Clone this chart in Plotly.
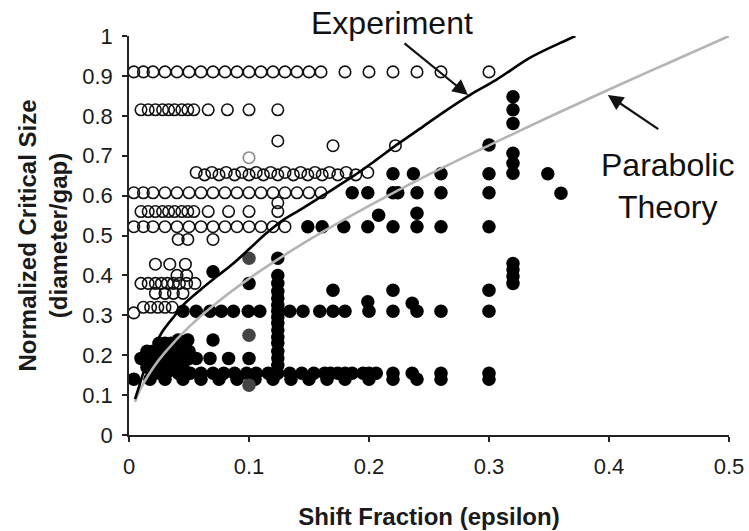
import plotly.graph_objects as go

# ---------------- data ----------------
x_ticks = [0, 0.1, 0.2, 0.3, 0.4, 0.5]
y_ticks = [0, 0.1, 0.2, 0.3, 0.4, 0.5, 0.6, 0.7, 0.8, 0.9, 1.0]

# Experiment curve (black)
exp_x = [0.005, 0.0075, 0.013, 0.02, 0.028, 0.0383, 0.0453, 0.0592, 0.0731, 0.0869,
         0.1008, 0.1147, 0.1286, 0.1425, 0.162, 0.184, 0.204, 0.223, 0.245, 0.265,
         0.284, 0.306, 0.334, 0.359, 0.372]
exp_y = [0.09, 0.113, 0.165, 0.215, 0.26, 0.30, 0.326, 0.363, 0.397, 0.43,
         0.468, 0.506, 0.539, 0.564, 0.601, 0.643, 0.685, 0.727, 0.773, 0.815,
         0.852, 0.89, 0.945, 0.982, 1.0]

# Parabolic theory curve (grey)
theory_x = [0.005, 0.01, 0.02, 0.03, 0.05, 0.075, 0.1, 0.125, 0.15, 0.2,
            0.25, 0.3, 0.35, 0.4, 0.45, 0.5]
theory_y = [0.083, 0.118, 0.168, 0.207, 0.271, 0.336, 0.392, 0.442, 0.489, 0.574,
            0.653, 0.726, 0.797, 0.866, 0.933, 1.0]

# Open circles (black outline)
open_x = [
    0.004, 0.012, 0.02, 0.03, 0.04, 0.05, 0.06, 0.07, 0.08, 0.09, 0.10, 0.11, 0.12,
    0.13, 0.14, 0.15, 0.16, 0.18, 0.20, 0.22, 0.24, 0.26, 0.30,
    0.01, 0.016, 0.022, 0.028, 0.033, 0.038, 0.044, 0.049, 0.054, 0.066, 0.082, 0.10, 0.124,
    0.124, 0.17, 0.222,
    0.056, 0.063, 0.069, 0.075, 0.081, 0.088, 0.094, 0.100, 0.106, 0.112, 0.118, 0.124,
    0.130, 0.137, 0.143, 0.149, 0.155, 0.161, 0.167, 0.174, 0.181, 0.189, 0.199,
    0.004, 0.012, 0.02, 0.03, 0.04, 0.05, 0.06, 0.07, 0.08, 0.09, 0.10, 0.11, 0.12,
    0.13, 0.14, 0.15, 0.16,
    0.124,
    0.01, 0.016, 0.022, 0.028, 0.033, 0.038, 0.044, 0.049, 0.054, 0.066, 0.083, 0.10, 0.124,
    0.004, 0.012, 0.02, 0.03, 0.04, 0.05, 0.06, 0.07, 0.08, 0.09, 0.10, 0.11, 0.12, 0.13,
    0.041, 0.049, 0.07,
    0.022, 0.034, 0.047,
    0.04, 0.048,
    0.01, 0.016, 0.022, 0.027, 0.032, 0.037, 0.042, 0.048, 0.055,
    0.022, 0.03, 0.037, 0.045,
    0.012, 0.018, 0.024, 0.03, 0.036,
    0.004,
    0.013,
]
open_y = [
    0.91, 0.91, 0.91, 0.91, 0.91, 0.91, 0.91, 0.91, 0.91, 0.91, 0.91, 0.91, 0.91,
    0.91, 0.91, 0.91, 0.91, 0.91, 0.91, 0.91, 0.91, 0.91, 0.91,
    0.815, 0.815, 0.815, 0.815, 0.815, 0.815, 0.815, 0.815, 0.815, 0.815, 0.815, 0.815, 0.815,
    0.737, 0.725, 0.725,
    0.658, 0.652, 0.658, 0.652, 0.658, 0.652, 0.658, 0.652, 0.658, 0.652, 0.658, 0.652,
    0.658, 0.652, 0.658, 0.652, 0.658, 0.652, 0.658, 0.652, 0.658, 0.652, 0.658,
    0.607, 0.607, 0.607, 0.607, 0.607, 0.607, 0.607, 0.607, 0.607, 0.607, 0.607, 0.607, 0.607,
    0.607, 0.607, 0.607, 0.607,
    0.582,
    0.56, 0.56, 0.56, 0.56, 0.56, 0.56, 0.56, 0.56, 0.56, 0.56, 0.56, 0.56, 0.56,
    0.522, 0.522, 0.522, 0.522, 0.522, 0.522, 0.522, 0.522, 0.522, 0.522, 0.522, 0.522, 0.522, 0.522,
    0.49, 0.49, 0.49,
    0.428, 0.428, 0.428,
    0.40, 0.40,
    0.38, 0.38, 0.38, 0.38, 0.38, 0.38, 0.38, 0.38, 0.38,
    0.355, 0.355, 0.355, 0.355,
    0.32, 0.32, 0.32, 0.32, 0.32,
    0.306,
    0.195,
]

# Grey open circle
grey_open_x = [0.10]
grey_open_y = [0.695]

# Filled circles (black)
filled_x = [
    0.004, 0.0175, 0.03, 0.045, 0.06, 0.075, 0.09, 0.105, 0.12, 0.135, 0.15, 0.165,
    0.18, 0.2, 0.22, 0.24, 0.26, 0.30,
    0.022, 0.031, 0.041, 0.051, 0.06, 0.07, 0.079, 0.088, 0.098, 0.106, 0.116, 0.124,
    0.134, 0.144, 0.154, 0.163, 0.168, 0.174, 0.18, 0.186, 0.195, 0.2, 0.206, 0.22,
    0.236, 0.26, 0.30,
    0.015, 0.02, 0.025, 0.03, 0.035, 0.04, 0.045,
    0.01, 0.015, 0.02, 0.025, 0.03, 0.035, 0.04, 0.045, 0.05, 0.056, 0.0675, 0.083, 0.10,
    0.015, 0.02, 0.025, 0.03, 0.035, 0.04, 0.045, 0.05,
    0.025, 0.03, 0.035,
    0.041, 0.049, 0.07,
    0.124, 0.124, 0.124, 0.124, 0.124, 0.124, 0.124, 0.124, 0.124, 0.124, 0.124, 0.124,
    0.124, 0.124,
    0.045, 0.056, 0.0675, 0.077, 0.087, 0.0994, 0.109, 0.124, 0.134, 0.145, 0.159, 0.17,
    0.18, 0.20, 0.22, 0.24, 0.26, 0.30,
    0.199, 0.236,
    0.17, 0.22, 0.30,
    0.10, 0.07,
    0.149, 0.161, 0.179, 0.199, 0.22, 0.24, 0.26, 0.30,
    0.208, 0.24,
    0.186, 0.199, 0.22, 0.224, 0.24, 0.26, 0.30,
    0.22, 0.237, 0.26, 0.30, 0.349,
    0.30,
    0.32, 0.32, 0.32, 0.32, 0.32, 0.32, 0.32, 0.32, 0.32, 0.32,
    0.36,
]
filled_y = [
    0.14, 0.14, 0.14, 0.14, 0.14, 0.14, 0.14, 0.14, 0.14, 0.14, 0.14, 0.14,
    0.14, 0.14, 0.14, 0.14, 0.14, 0.14,
    0.155, 0.155, 0.155, 0.155, 0.155, 0.155, 0.155, 0.155, 0.155, 0.155, 0.155, 0.155,
    0.155, 0.155, 0.155, 0.155, 0.155, 0.155, 0.155, 0.155, 0.155, 0.155, 0.155, 0.155,
    0.155, 0.155, 0.155,
    0.17, 0.17, 0.17, 0.17, 0.17, 0.17, 0.17,
    0.192, 0.192, 0.192, 0.192, 0.192, 0.192, 0.192, 0.192, 0.192, 0.192, 0.192, 0.192, 0.192,
    0.21, 0.21, 0.21, 0.21, 0.21, 0.21, 0.21, 0.21,
    0.23, 0.23, 0.23,
    0.238, 0.238, 0.238,
    0.175, 0.193, 0.21, 0.23, 0.245, 0.263, 0.28, 0.295, 0.325, 0.343, 0.36, 0.38,
    0.40, 0.443,
    0.31, 0.31, 0.31, 0.31, 0.31, 0.31, 0.31, 0.31, 0.31, 0.31, 0.31, 0.31,
    0.31, 0.31, 0.31, 0.31, 0.31, 0.31,
    0.334, 0.33,
    0.363, 0.363, 0.363,
    0.38, 0.409,
    0.522, 0.522, 0.522, 0.522, 0.522, 0.522, 0.522, 0.522,
    0.551, 0.556,
    0.607, 0.607, 0.607, 0.607, 0.607, 0.607, 0.607,
    0.655, 0.655, 0.655, 0.655, 0.655,
    0.727,
    0.38, 0.397, 0.414, 0.43, 0.656, 0.681, 0.706, 0.781, 0.815, 0.848,
    0.606,
]

# Grey filled circles
grey_filled_x = [0.10, 0.10, 0.10]
grey_filled_y = [0.443, 0.25, 0.125]

FONT = "Liberation Sans, Arial, sans-serif"

fig = go.Figure()
fig.add_trace(go.Scatter(x=open_x, y=open_y, mode="markers", cliponaxis=False,
                         marker=dict(symbol="circle-open", size=11.5, color="#111111",
                                     line=dict(width=1.6, color="#111111")),
                         name="passed", showlegend=False))
fig.add_trace(go.Scatter(x=grey_open_x, y=grey_open_y, mode="markers", cliponaxis=False,
                         marker=dict(symbol="circle-open", size=11.5, color="#888888",
                                     line=dict(width=1.6, color="#888888")),
                         showlegend=False))
fig.add_trace(go.Scatter(x=filled_x, y=filled_y, mode="markers", cliponaxis=False,
                         marker=dict(symbol="circle", size=13.5, color="#000000",
                                     line=dict(width=0)),
                         showlegend=False))
fig.add_trace(go.Scatter(x=grey_filled_x, y=grey_filled_y, mode="markers", cliponaxis=False,
                         marker=dict(symbol="circle", size=13.5, color="#444444",
                                     line=dict(width=0)),
                         showlegend=False))
fig.add_trace(go.Scatter(x=theory_x, y=theory_y, mode="lines", line_shape="spline",
                         line=dict(color="#b4b4b4", width=2.6), showlegend=False,
                         name="Parabolic Theory"))
fig.add_trace(go.Scatter(x=exp_x, y=exp_y, mode="lines", line_shape="spline",
                         line=dict(color="#000000", width=2.6), showlegend=False,
                         name="Experiment"))

fig.update_layout(
    width=749, height=531,
    margin=dict(l=129, r=20, t=36, b=96),
    paper_bgcolor="white", plot_bgcolor="white",
    font=dict(family=FONT, color="#1a1a1a"),
    xaxis=dict(range=[0, 0.5], tickvals=x_ticks, ticktext=[str(v) for v in x_ticks],
               automargin=False,
               showgrid=False, zeroline=False, showline=True, linecolor="#222222",
               linewidth=1.5, ticks="outside", ticklen=5, tickwidth=1.5,
               tickcolor="#222222", tickfont=dict(size=22, family=FONT),
               ticklabelstandoff=6,
               title=dict(text="<b>Shift Fraction (epsilon)</b>",
                          font=dict(size=24, family=FONT), standoff=30)),
    yaxis=dict(range=[0, 1], tickvals=y_ticks, ticktext=[("%g" % v) for v in y_ticks],
               automargin=False,
               showgrid=False, zeroline=False, showline=True, linecolor="#222222",
               linewidth=1.5, ticks="outside", ticklen=5, tickwidth=1.5,
               tickcolor="#222222", tickfont=dict(size=22, family=FONT),
               ticklabelstandoff=5,
               title=dict(text="<b>Normalized Critical Size</b><br><b>(diameter/gap)</b>",
                          font=dict(size=24, family=FONT), standoff=8)),
    annotations=[
        dict(text="Experiment", xref="paper", yref="paper", x=0.438, y=1.033,
             showarrow=False, font=dict(size=32, family=FONT, color="#111111"),
             xanchor="center", yanchor="middle"),
        dict(text="", x=0.2825, y=0.852, xref="x", yref="y", ax=-65, ay=-53,
             showarrow=True, arrowhead=2, arrowsize=1.4, arrowwidth=2.2,
             arrowcolor="#111111"),
        dict(text="Parabolic<br>Theory", xref="paper", yref="paper", x=0.897, y=0.625,
             showarrow=False, font=dict(size=32, family=FONT, color="#111111"),
             xanchor="center", yanchor="middle"),
        dict(text="", x=0.399, y=0.852, xref="x", yref="y", ax=52, ay=35,
             showarrow=True, arrowhead=2, arrowsize=1.4, arrowwidth=2.2,
             arrowcolor="#111111"),
    ],
)

fig.write_html("out.html")
